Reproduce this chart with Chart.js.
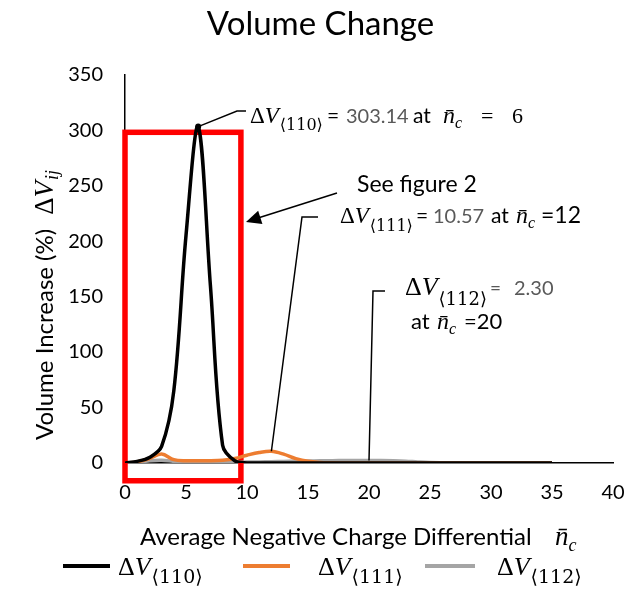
<!DOCTYPE html>
<html><head><meta charset="utf-8">
<script src="https://cdn.jsdelivr.net/npm/chart.js@4.4.1/dist/chart.umd.min.js"></script>
<style>html,body{margin:0;padding:0;background:#fff;overflow:hidden}</style>
</head><body>
<canvas id="c" width="627" height="606"></canvas>
<script>
// ---- data ----
const nc = [0,1,2,3,4,5,6,7,8,9,10,11,12,13,14,15,16,17,18,19,20,21,22,23,24,25,26,27,28,29,30,31,32,33,34,35];
const dv110 = [0,1.5,5,15,65,205,303.14,160,16,2,0,0,0,0,0,0,0,0,0,0,0,0,0,0,0,0,0,0,0,0,0,0,0,0,0,0];
const dv111 = [0,1,4,8,3,2,2,2,2.5,4,7,9.5,10.57,8,4,1.5,0.5,0.2,0,0,0,0,0,0,0,0,0,0,0,0,0,0,0,0,0,0];
const dv112 = [0,0.5,2,2.5,1.5,0.6,0.4,0.4,0.5,0.6,0.8,1,1.2,1.4,1.6,1.8,2,2.1,2.2,2.25,2.30,2.25,2.0,1.6,1.0,0.5,0.3,0.2,0.1,0.1,0.1,0.1,0.1,0,0,0];
const seriesNames = ['ΔV⟨110⟩','ΔV⟨111⟩','ΔV⟨112⟩'];
const seriesSubs = ['⟨110⟩','⟨111⟩','⟨112⟩'];
const xTickLabels = [0,5,10,15,20,25,30,35,40];
const yTickLabels = [0,50,100,150,200,250,300,350];
const peaks = [{x:6,y:303.14},{x:12,y:10.57},{x:20,y:2.30}];
const boxRange = {x0:0, x1:9.5, y0:-16, y1:298};

const SANS = 'Lato, "Open Sans", sans-serif';
const SERIF = '"Liberation Serif", "DejaVu Serif", "DejaVu Sans", serif';
const SUBF = '"DejaVu Serif", "DejaVu Sans", serif';
const COLORS = ['#000000','#ED7D31','#A5A5A5'];
const GREYTXT = '#595959';

function pts(arr){ return nc.map((v,i)=>({x:v,y:arr[i]})); }

function rich(ctx, x, y, parts, draw=true){
  let cx = x;
  for (const p of parts){
    if (p.x !== undefined) cx = p.x;
    ctx.font = p.f;
    const w = ctx.measureText(p.t).width;
    if (draw){ ctx.fillStyle = p.c || '#000'; ctx.fillText(p.t, cx, y + (p.dy||0)); }
    cx += w + (p.sp||0);
  }
  return cx - x;
}
const dV = (size, sub, subSize, dy) => [
  {t:'Δ', f:`${size}px ${SERIF}`},
  {t:'V', f:`italic ${size}px ${SERIF}`, sp:1},
  {t:sub, f:`${subSize}px ${SUBF}`, dy:dy}
];
const nbar = (size, subSize, dy, x) => [
  {t:'n\u0304', f:`italic ${size}px ${SERIF}`, x:x},
  {t:'c', f:`italic ${subSize}px ${SERIF}`, dy:dy}
];

function line(ctx, p){ ctx.beginPath(); ctx.moveTo(p[0][0],p[0][1]); for(let i=1;i<p.length;i++) ctx.lineTo(p[i][0],p[i][1]); ctx.stroke(); }

const extras = {
  id:'extras',
  beforeDatasetsDraw(chart){
    const {ctx, scales:{x,y}} = chart;
    ctx.save();
    ctx.strokeStyle = '#FF0000'; ctx.lineWidth = 5.5;
    const l = x.getPixelForValue(boxRange.x0), r = x.getPixelForValue(boxRange.x1);
    const t = y.getPixelForValue(boxRange.y1), b = y.getPixelForValue(boxRange.y0);
    ctx.strokeRect(l, t, r-l, b-t);
    ctx.restore();
  },
  afterDatasetsDraw(chart){
    const {ctx, scales:{x,y}} = chart;
    ctx.save();
    ctx.strokeStyle = '#000'; ctx.fillStyle = '#000'; ctx.lineWidth = 1.5;
    const p0 = [x.getPixelForValue(peaks[0].x), y.getPixelForValue(peaks[0].y)];
    const p1 = [x.getPixelForValue(peaks[1].x), y.getPixelForValue(peaks[1].y)];
    const p2 = [x.getPixelForValue(peaks[2].x), y.getPixelForValue(peaks[2].y)];
    ctx.beginPath(); ctx.arc(p0[0], p0[1], 3, 0, Math.PI*2); ctx.fill();
    line(ctx, [p0, [237,111], [246,111]]);
    line(ctx, [p1, [302,217], [318,217]]);
    line(ctx, [p2, [373,291], [385,291]]);
    // arrow
    const a0=[337,193], a1=[246,222];
    line(ctx, [a0, [a1[0]+12, a1[1]-4]]);
    const ang = Math.atan2(a1[1]-a0[1], a1[0]-a0[0]);
    const L=15, W=7;
    ctx.beginPath();
    ctx.moveTo(a1[0], a1[1]);
    ctx.lineTo(a1[0]-L*Math.cos(ang)+W*Math.sin(ang), a1[1]-L*Math.sin(ang)-W*Math.cos(ang));
    ctx.lineTo(a1[0]-L*Math.cos(ang)-W*Math.sin(ang), a1[1]-L*Math.sin(ang)+W*Math.cos(ang));
    ctx.closePath(); ctx.fill();

    ctx.textBaseline = 'alphabetic'; ctx.textAlign = 'left';
    // callout 110
    rich(ctx, 250, 123, [...dV(23, seriesSubs[0], 16, 7),
      {t:'=', f:`21px ${SANS}`, x:327},
      {t:'303.14', f:`20px ${SANS}`, c:GREYTXT, x:346},
      {t:'at', f:`21px ${SANS}`, x:413},
      ...nbar(24, 16, 5, 443),
      {t:'=', f:`22px ${SERIF}`, x:481},
      {t:'6', f:`22px ${SERIF}`, x:512}]);
    // see figure 2
    rich(ctx, 357, 192, [{t:'See figure 2', f:`23px ${SANS}`}]);
    // callout 111
    rich(ctx, 340, 223, [...dV(23, seriesSubs[1], 16, 8),
      {t:'=', f:`21px ${SANS}`, x:416},
      {t:'10.57', f:`20px ${SANS}`, c:GREYTXT, x:433},
      {t:'at', f:`21px ${SANS}`, x:491},
      ...nbar(24, 16, 5, 516),
      {t:'=12', f:`23px ${SANS}`, x:541}]);
    // callout 112
    rich(ctx, 405, 295, [...dV(26, seriesSubs[2], 18, 10),
      {t:'=', f:`19px ${SANS}`, c:GREYTXT, dy:0, x:490},
      {t:'2.30', f:`20px ${SANS}`, c:GREYTXT, dy:0, x:514}]);
    rich(ctx, 411, 329, [{t:'at', f:`22px ${SANS}`}, ...nbar(24, 16, 5, 437), {t:'=20', f:`22px ${SANS}`, x:464}]);
    ctx.restore();
  },
  afterDraw(chart){
    const {ctx} = chart;
    ctx.save();
    ctx.textBaseline = 'alphabetic'; ctx.textAlign = 'left';
    // x axis title
    rich(ctx, 140, 545, [{t:'Average Negative Charge Differential', f:`24px ${SANS}`},
      ...nbar(27, 18, 6, 555)]);
    // y axis title (rotated)
    ctx.translate(53, 305); ctx.rotate(-Math.PI/2);
    const yParts = [{t:'Volume Increase (%)', f:`24px ${SANS}`, sp:14},
      {t:'Δ', f:`27px ${SERIF}`}, {t:'V', f:`italic 27px ${SERIF}`, sp:1},
      {t:'ij', f:`italic 18px ${SERIF}`, dy:5}];
    const w = rich(ctx, 0, 0, yParts, false);
    rich(ctx, -w/2, 0, yParts);
    ctx.setTransform(1,0,0,1,0,0);
    // legend
    const leg = [{x0:63,x1:110,tx:118},{x0:243,x1:290,tx:318},{x0:425,x1:475,tx:497}];
    leg.forEach((g,i)=>{
      ctx.strokeStyle = COLORS[i]; ctx.lineWidth = 4;
      line(ctx, [[g.x0,566],[g.x1,566]]);
      rich(ctx, g.tx, 575, dV(26, seriesSubs[i], 19, 8));
    });
    ctx.restore();
  }
};

new Chart(document.getElementById('c'), {
  type:'line',
  data:{
    datasets:[
      {label:seriesNames[0], data:pts(dv110), borderColor:COLORS[0], borderWidth:3.5},
      {label:seriesNames[1], data:pts(dv111), borderColor:COLORS[1], borderWidth:3.5},
      {label:seriesNames[2], data:pts(dv112), borderColor:COLORS[2], borderWidth:3.5}
    ].map(d=>Object.assign(d,{pointRadius:0, tension:0.35, fill:false}))
  },
  options:{
    responsive:false, animation:false,
    layout:{padding:{left:14,right:0,top:0,bottom:0}},
    plugins:{
      legend:{display:false},
      tooltip:{enabled:false},
      title:{display:true, text:'Volume Change', color:'#000',
        font:{family:'Lato', size:33, weight:'normal'}, padding:{top:5,bottom:30}}
    },
    scales:{
      x:{type:'linear', min:0, max:40,
        afterBuildTicks:s=>{ s.ticks = xTickLabels.map(v=>({value:v})); },
        afterFit:s=>{ s.height = 143; s.paddingLeft = 0; s.paddingRight = 14; },
        grid:{display:false, drawTicks:false, tickLength:0},
        border:{display:true, color:'#000', width:1.5},
        ticks:{color:'#000', padding:18, font:{family:'Lato', size:20}, maxRotation:0}},
      y:{type:'linear', min:0, max:350,
        afterBuildTicks:s=>{ s.ticks = yTickLabels.map(v=>({value:v})); },
        afterFit:s=>{ s.width = 111; },
        grid:{display:false, drawTicks:false, tickLength:0},
        border:{display:true, color:'#000', width:1.5},
        ticks:{color:'#000', padding:22, font:{family:'Lato', size:20}}}
    }
  },
  plugins:[extras]
});
</script>
</body></html>
